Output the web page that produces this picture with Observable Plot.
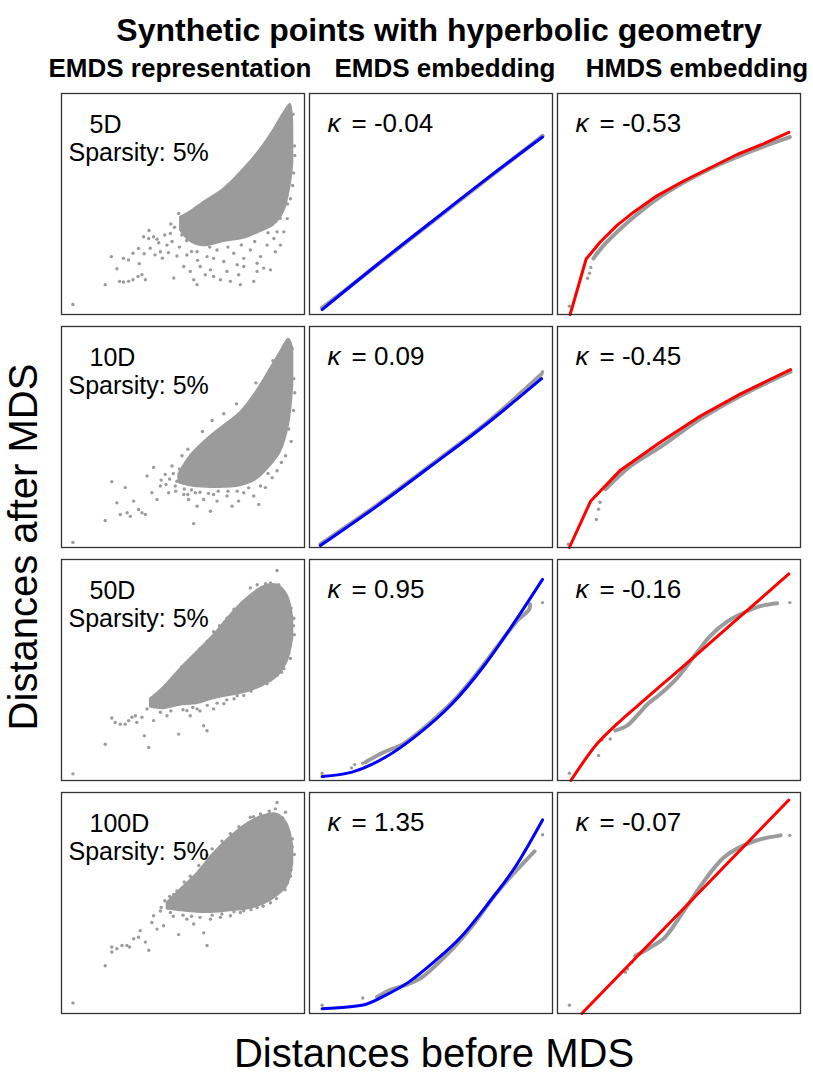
<!DOCTYPE html>
<html><head><meta charset="utf-8">
<script src="https://cdn.jsdelivr.net/npm/d3@7"></script>
<script src="https://cdn.jsdelivr.net/npm/@observablehq/plot@0.6"></script>
<style>body{margin:0;background:#fff;} #chart{width:813px;height:1076px;}</style>
</head><body><div id="chart"></div>
<script>
// ---- labels ----
const rows = ["5D", "10D", "50D", "100D"];
const cols = ["EMDS representation", "EMDS embedding", "HMDS embedding"];
const sparsity = ["5%", "5%", "5%", "5%"];
const kappaEMDS = ["-0.04", "0.09", "0.95", "1.35"];
const kappaHMDS = ["-0.53", "-0.45", "-0.16", "-0.07"];
const title = "Synthetic points with hyperbolic geometry";
const xLabel = "Distances before MDS";
const yLabel = "Distances after MDS";

// ---- EMDS representation: dense core [x, yLow, yHigh] and scattered points [x, y] ----
const core5D = [[48.9,38.0,44.0],[53.0,33.0,46.5],[58.5,31.0,50.9],[66.8,32.9,56.9],[75.0,34.4,65.9],[81.9,37.4,74.9],[87.4,40.4,83.8],[91.5,46.4,91.3],[94.2,58.4,95.1],[95.3,68.9,80.8]];
const core10D = [[48.2,29.3,33.1],[53.0,27.8,41.5],[59.9,27.1,49.1],[66.8,27.1,55.2],[73.6,27.8,61.2],[80.5,30.9,71.1],[86.0,36.9,81.0],[90.1,43.0,88.6],[93.5,55.2,94.4],[95.3,73.4,90.1]];
const core50D = [[36.5,33.1,36.9],[42.0,32.4,42.2],[48.9,33.9,50.6],[55.8,34.7,58.2],[62.6,36.9,65.8],[69.5,38.4,74.9],[76.4,40.0,82.5],[83.2,43.0,87.8],[88.7,46.8,88.6],[92.9,53.6,84.0],[95.3,64.3,73.4]];
const core100D = [[43.4,47.2,50.1],[48.9,46.4,56.1],[55.8,45.7,63.5],[62.6,45.7,72.5],[69.5,46.4,79.9],[76.4,47.2,85.9],[83.2,49.4,89.6],[88.7,53.1,90.3],[92.9,57.6,85.9],[95.3,68.0,75.4]];

const pts5D = [[4.7,4.5],[18.0,13.5],[20.5,26.2],[22.8,20.7],[23.9,15.0],[25.5,14.7],[27.6,15.0],[29.4,15.7],[31.5,17.2],[33.1,18.0],[34.5,15.7],[25.5,25.4],[27.6,24.7],[29.4,27.7],[31.7,29.9],[33.8,35.2],[35.9,34.4],[37.9,35.2],[39.3,34.1],[40.7,28.4],[43.4,31.4],[44.8,36.7],[46.2,16.5],[48.2,45.7],[50.3,21.7],[53.0,19.5],[54.4,15.7],[55.8,13.5],[57.1,21.7],[59.2,18.0],[61.3,20.2],[62.6,17.2],[65.4,15.7],[68.1,19.5],[69.5,15.0],[72.9,18.0],[73.6,13.5],[75.0,21.7],[79.1,15.0],[80.5,19.5],[83.2,21.0],[86.0,20.2],[88.0,28.4],[90.1,31.4],[91.5,37.4],[92.9,43.4],[94.2,52.4],[95.1,58.4],[95.9,76.3],[95.3,90.6],[69.5,53.9],[64.7,54.6],[51.6,26.9],[55.8,28.4],[59.9,26.2],[64.0,29.2],[66.8,24.0],[70.9,27.7],[75.0,25.4],[77.7,29.2],[81.9,26.2],[84.6,31.4],[87.4,34.4],[62.6,25.4],[72.3,22.5],[80.5,23.2],[88.7,37.4],
  [36.5,30.0],[38.5,27.0],[40.0,32.5],[41.5,25.5],[42.5,36.0],[44.0,28.0],[45.5,33.0],[46.5,39.5],[47.5,26.5],[48.5,30.5],[49.5,36.0],[50.5,40.5],[36.0,38.0],[34.0,27.5],[32.0,23.0],[45.0,41.0],[51.5,33.5],[53.5,28.5],[56.0,24.5],[57.5,35.0],[61.0,30.5],[68.5,30.5],[74.0,31.5],[79.5,33.0],[85.0,37.0],[90.0,43.5],[93.0,50.0],[95.5,64.0],[96.0,72.0]];
const pts10D = [[4.7,2.3],[18.0,12.2],[20.7,29.8],[22.8,20.2],[24.2,14.9],[26.2,27.1],[27.0,15.7],[28.3,14.1],[29.7,21.0],[31.7,17.2],[33.1,15.7],[34.5,14.9],[35.2,32.4],[37.2,24.8],[37.9,36.2],[39.3,21.7],[40.7,27.8],[42.7,33.1],[44.1,24.8],[45.5,36.9],[46.8,27.8],[49.6,41.5],[52.3,21.7],[54.4,10.8],[55.8,18.7],[58.5,21.7],[61.3,16.4],[64.0,21.0],[66.8,60.5],[68.1,23.3],[70.2,18.7],[72.9,21.0],[75.0,24.8],[79.1,23.3],[81.2,19.5],[83.9,27.1],[86.7,31.6],[88.7,34.7],[92.2,41.5],[93.5,53.6],[94.9,90.1],[95.6,76.4],[55.1,24.8],[50.3,24.0],[62.6,24.0],[72.3,25.5],[81.9,27.8],
  [41.0,30.5],[43.0,28.5],[44.5,31.0],[46.0,33.5],[47.5,30.0],[48.5,35.5],[47.0,25.5],[50.5,26.5],[52.0,24.0],[53.5,26.0],[57.0,25.0],[60.5,24.5],[64.5,25.5],[68.5,25.5],[77.0,27.0],[85.0,33.5],[90.5,38.5],[94.5,48.0],[95.5,62.0],[96.0,70.0],[58.0,52.5],[52.0,44.5],[62.0,57.5],[72.0,65.0],[80.0,74.5],[87.0,84.5],[91.5,91.0]];
const pts50D = [[4.7,3.0],[18.0,16.4],[20.7,28.3],[22.1,26.3],[24.2,25.5],[26.2,25.5],[27.6,27.1],[29.0,28.6],[30.4,29.3],[31.0,26.3],[33.1,28.6],[34.1,20.2],[35.9,14.9],[35.2,32.4],[37.9,27.1],[40.7,30.9],[43.4,29.3],[48.2,21.0],[51.6,31.6],[53.0,29.3],[55.8,32.4],[58.5,24.8],[59.9,22.5],[62.6,32.4],[66.8,34.7],[72.3,38.4],[79.1,44.5],[81.9,43.8],[84.6,43.8],[88.7,95.0],[86.0,89.4],[89.4,88.6],[92.9,81.0],[95.6,73.4],[94.2,55.2],[91.5,50.6],[88.7,47.6],[77.7,87.1],[80.5,88.6],[68.1,73.4],[62.6,67.3],[57.1,59.7],
  [38.0,33.5],[40.0,35.5],[41.5,39.0],[44.0,42.5],[46.0,45.5],[45.0,31.5],[50.0,32.0],[54.0,33.0],[57.0,31.5],[60.0,34.0],[64.0,35.0],[68.0,36.5],[71.0,37.0],[75.0,38.5],[78.0,40.5],[86.0,45.5],[90.5,49.0],[93.5,57.5],[95.8,66.0],[95.5,70.0],[94.5,78.0],[91.0,85.5],[84.0,89.0],[74.0,80.0],[71.0,77.5],[65.0,70.0],[60.0,63.0],[53.0,54.0],[49.5,51.5]];
const pts100D = [[4.7,4.8],[18.0,21.6],[20.7,27.8],[20.7,30.1],[22.8,29.3],[24.9,30.8],[26.9,30.8],[28.0,30.1],[29.7,33.8],[31.7,34.5],[32.4,37.5],[34.5,32.3],[35.9,28.6],[37.2,41.2],[37.9,44.2],[39.3,38.2],[40.7,46.4],[42.0,39.7],[44.8,45.7],[48.2,35.7],[51.6,42.7],[54.4,40.5],[58.5,36.5],[59.9,30.8],[61.3,42.7],[65.4,43.5],[69.5,44.2],[73.6,45.7],[80.5,47.9],[86.0,50.1],[88.7,95.5],[88.0,92.6],[92.2,91.1],[93.5,82.1],[94.9,75.4],[94.2,69.5],[94.2,62.1],[92.9,59.1],[81.9,90.3],[77.7,88.8],[69.5,81.4],[59.9,71.7],[53.0,62.1],[46.2,53.9],
  [41.0,48.0],[42.5,51.0],[44.5,53.0],[47.5,55.5],[50.5,59.5],[46.0,44.0],[50.0,44.5],[53.5,44.0],[57.0,43.5],[62.0,44.5],[66.0,45.0],[71.0,46.0],[75.0,46.5],[78.0,47.0],[83.0,48.5],[88.5,52.0],[92.0,56.0],[94.5,65.0],[95.8,72.0],[95.0,79.0],[91.0,88.5],[85.5,91.5],[79.0,89.0],[73.0,84.5],[66.0,78.0],[62.0,74.5],[56.5,67.0]];

// ---- EMDS / HMDS embeddings: fitted curve, gray point trail, isolated gray points ----
const fitE5D = [[5.2,2.2],[27.8,22.5],[50.4,42.1],[73.0,61.5],[95.9,80.3]];
const trailE5D = [[5.2,3.0],[13.7,10.2],[50.4,41.8],[95.9,80.8]];
const ptsE5D = [[5.2,3.3],[95.9,80.9]];
const fitE10D = [[4.5,0.9],[27.5,18.5],[50.4,37.2],[73.0,56.0],[95.5,76.4]];
const trailE10D = [[4.5,1.5],[27.5,19.0],[50.4,37.6],[73.0,56.5],[95.5,78.5]];
const ptsE10D = [[4.5,0.9],[95.9,79.5]];
const fitE50D = [[5.2,1.8],[17.5,3.8],[31.2,10.5],[44.9,21.1],[58.6,34.6],[72.3,52.6],[84.7,72.2],[95.9,91.0]];
const trailE50D = [[23.0,8.3],[31.2,13.1],[38.1,16.2],[44.9,21.8],[51.8,28.3],[58.6,35.3],[65.5,43.9],[72.3,53.4],[79.2,63.5],[86.0,72.9],[90.4,77.4],[90.8,79.7]];
const ptsE50D = [[5.2,3.3],[17.3,5.7],[18.6,7.2],[21.9,7.8],[95.9,80.5]];
const fitE100D = [[5.2,2.2],[21.6,3.7],[31.2,8.2],[40.8,14.2],[51.8,23.9],[62.7,35.1],[73.7,50.0],[84.7,66.4],[95.9,87.6]];
const trailE100D = [[27.8,7.5],[32.6,10.4],[40.8,13.4],[46.3,16.4],[51.8,21.6],[60.0,30.6],[68.2,41.3],[76.4,53.7],[84.7,64.2],[92.6,73.4]];
const ptsE100D = [[5.2,3.7],[21.9,7.0],[95.9,80.9]];

const fitH5D = [[5.2,0],[11.8,25.1],[17.6,32.8],[24.5,40.3],[31.3,46.3],[40.9,53.7],[51.9,60.4],[62.9,66.4],[73.9,72.4],[84.9,77.3],[95.2,82.4]];
const trailH5D = [[14.8,25.4],[19.0,31.3],[24.5,37.3],[31.3,44.0],[40.9,52.2],[51.9,59.7],[62.9,66.0],[73.9,71.3],[84.9,76.1],[95.6,80.3]];
const ptsH5D = [[4.9,3.7],[12.4,16.4],[13.2,18.7],[13.7,21.3]];
const fitH10D = [[4.9,0],[13.6,20.9],[25.9,35.0],[42.4,47.7],[58.8,59.5],[75.3,69.5],[95.9,80.5]];
const trailH10D = [[19.8,26.4],[30.0,36.8],[42.4,45.5],[58.8,58.2],[75.3,68.6],[95.9,79.5]];
const ptsH10D = [[4.5,1.5],[16.0,12.7],[16.9,17.3],[17.5,20.5]];
const fitH50D = [[5.5,0],[16.2,16.5],[24.5,25.6],[35.4,36.1],[46.4,46.6],[57.4,57.1],[68.4,67.7],[79.4,78.2],[95.2,93.5]];
const trailH50D = [[23.8,22.6],[28.6,24.8],[33.4,30.1],[36.8,34.3],[42.3,39.1],[49.2,46.3],[57.4,57.9],[62.9,65.4],[69.8,71.9],[76.6,75.9],[83.5,78.9],[90.4,80.2]];
const ptsH50D = [[4.9,3.3],[16.9,11.3],[18.3,18.3],[21.7,18.8],[95.6,80.5]];
const fitH100D = [[10.0,0],[95.2,96.6]];
const trailH100D = [[32.0,26.1],[38.2,29.9],[43.7,33.9],[47.8,39.6],[51.9,46.3],[57.4,55.2],[62.9,63.7],[68.4,70.6],[73.9,74.6],[82.1,78.4],[91.8,80.6]];
const ptsH100D = [[4.9,3.7],[27.9,18.7],[28.8,20.1],[30.6,23.1],[95.6,80.6]];

// ---- build tables ----
const cores = [core5D, core10D, core50D, core100D];
const reps = [pts5D, pts10D, pts50D, pts100D];
const fitsE = [fitE5D, fitE10D, fitE50D, fitE100D];
const trailsE = [trailE5D, trailE10D, trailE50D, trailE100D];
const ptsE = [ptsE5D, ptsE10D, ptsE50D, ptsE100D];
const fitsH = [fitH5D, fitH10D, fitH50D, fitH100D];
const trailsH = [trailH5D, trailH10D, trailH50D, trailH100D];
const ptsH = [ptsH5D, ptsH10D, ptsH50D, ptsH100D];

const coreRows = [], dotRows = [], trailRows = [], fitRows = [], dimRows = [], kRows = [];
rows.forEach((row, i) => {
  cores[i].forEach(([x, lo, hi]) => coreRows.push({row, col: cols[0], x, lo, hi}));
  reps[i].forEach(([x, y]) => dotRows.push({row, col: cols[0], x, y}));
  ptsE[i].forEach(([x, y]) => dotRows.push({row, col: cols[1], x, y}));
  ptsH[i].forEach(([x, y]) => dotRows.push({row, col: cols[2], x, y}));
  trailsE[i].forEach(([x, y]) => trailRows.push({row, col: cols[1], x, y}));
  trailsH[i].forEach(([x, y]) => trailRows.push({row, col: cols[2], x, y}));
  fitsE[i].forEach(([x, y]) => fitRows.push({row, col: cols[1], x, y, kind: "E"}));
  fitsH[i].forEach(([x, y]) => fitRows.push({row, col: cols[2], x, y, kind: i < 2 ? "Hknee" : "Hsmooth"}));
  dimRows.push({row, col: cols[0], dim: row, sp: "Sparsity: " + sparsity[i]});
  kRows.push({row, col: cols[1], k: "= " + kappaEMDS[i]});
  kRows.push({row, col: cols[2], k: "= " + kappaHMDS[i]});
});

const gray = "#9b9b9b";
const common = {fx: "col", fy: "row", x: "x", y: "y"};
const font = "Liberation Sans, Arial, Helvetica, sans-serif";
const txt = {fx: "col", fy: "row", frameAnchor: "top-left", lineAnchor: "bottom", textAnchor: "start", fontSize: 25, fill: "#000"};

const chart = Plot.plot({
  width: 813, height: 1076,
  marginLeft: 60, marginRight: 13, marginTop: 92, marginBottom: 62,
  style: {fontFamily: font, background: "#fff"},
  x: {domain: [0, 100], axis: null},
  y: {domain: [0, 100], axis: null},
  fx: {domain: cols, paddingInner: 0.022, paddingOuter: 0, axis: null},
  fy: {domain: rows, paddingInner: 0.05, paddingOuter: 0, axis: null},
  marks: [
    Plot.areaY(coreRows, {fx: "col", fy: "row", x: "x", y1: "lo", y2: "hi", fill: gray, stroke: gray, strokeWidth: 1.5, curve: "catmull-rom"}),
    Plot.dot(dotRows, {...common, r: 1.7, fill: gray, stroke: "none"}),
    Plot.line(trailRows, {...common, stroke: gray, strokeWidth: 4, curve: "catmull-rom"}),
    Plot.line(fitRows.filter(d => d.kind === "E"), {...common, stroke: "#0000ff", strokeWidth: 3, curve: "monotone-x"}),
    Plot.line(fitRows.filter(d => d.kind === "Hknee"), {...common, stroke: "#ff0000", strokeWidth: 3, curve: "linear"}),
    Plot.line(fitRows.filter(d => d.kind === "Hsmooth"), {...common, stroke: "#ff0000", strokeWidth: 3, curve: "monotone-x"}),
    Plot.frame({stroke: "#333", strokeWidth: 1.3}),
    Plot.text(dimRows, {...txt, text: "dim", dx: 28, dy: 39}),
    Plot.text(dimRows, {...txt, text: "sp", dx: 7, dy: 67}),
    Plot.text(kRows, {...txt, text: () => "κ", dx: 18, dy: 38, fontSize: 26, fontStyle: "italic"}),
    Plot.text(kRows, {...txt, text: "k", dx: 42, dy: 38, fontSize: 26})
  ]
});
document.getElementById("chart").appendChild(chart);

// ---- outer texts ----
const svg = d3.select(chart.tagName.toLowerCase() === "svg" ? chart : chart.querySelector("svg"));
svg.append("text").attr("x", 439).attr("y", 41).attr("text-anchor", "middle")
  .attr("font-size", 32).attr("font-weight", "bold").attr("font-family", font).attr("fill", "#000").text(title);
const headerX = [180, 445, 697];
cols.forEach((c, i) => svg.append("text").attr("x", headerX[i]).attr("y", 77).attr("text-anchor", "middle")
  .attr("font-size", 26).attr("font-weight", "bold").attr("font-family", font).attr("fill", "#000").text(c));
svg.append("text").attr("x", 434).attr("y", 1067).attr("text-anchor", "middle")
  .attr("font-size", 40).attr("font-family", font).attr("fill", "#000").text(xLabel);
svg.append("text").attr("transform", "translate(37,547) rotate(-90)").attr("text-anchor", "middle")
  .attr("font-size", 40).attr("font-family", font).attr("fill", "#000").text(yLabel);
</script></body></html>
